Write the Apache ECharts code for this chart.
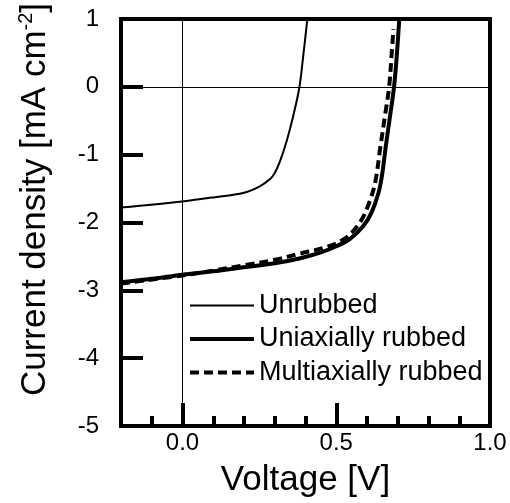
<!DOCTYPE html>
<html>
<head>
<meta charset="utf-8">
<script src="https://cdn.jsdelivr.net/npm/echarts@6/dist/echarts.min.js"></script>
<style>
  html, body { margin: 0; padding: 0; background: #fff; }
  #chart { width: 510px; height: 503px; }
</style>
</head>
<body>
<div id="chart"></div>
<script>
// J-V curves, [voltage (V), current density (mA cm^-2)]
const unrubbed = [
  [-0.2, -1.78], [0.0, -1.69], [0.1, -1.63], [0.2, -1.56], [0.25, -1.47],
  [0.285, -1.36], [0.3, -1.27], [0.317, -1.10], [0.34, -0.78], [0.36, -0.43],
  [0.38, -0.01], [0.393, 0.47], [0.406, 1.0]
]
const uniaxial = [
  [-0.2, -2.88], [-0.1, -2.83], [0.0, -2.77], [0.1, -2.72], [0.2, -2.66],
  [0.3, -2.60], [0.38, -2.53], [0.45, -2.44], [0.5, -2.35], [0.545, -2.24],
  [0.588, -2.05], [0.615, -1.85], [0.637, -1.57], [0.649, -1.30], [0.661, -0.88],
  [0.675, -0.43], [0.688, 0.0], [0.697, 0.47], [0.705, 1.0]
]
const multiaxial = [
  [-0.2, -2.90], [0.0, -2.78], [0.1, -2.71], [0.2, -2.63], [0.3, -2.55],
  [0.38, -2.46], [0.469, -2.36], [0.53, -2.23], [0.577, -2.0], [0.607, -1.71],
  [0.627, -1.40], [0.643, -0.90], [0.659, -0.41], [0.672, 0.0], [0.680, 0.47],
  [0.686, 0.85]
]
const seriesNames = ['Unrubbed', 'Uniaxially rubbed', 'Multiaxially rubbed']
const xMajorTicks = [0, 0.5, 1.0]
const refLines = [0]

const font = 'Liberation Sans, Arial, sans-serif'
const chart = echarts.init(document.getElementById('chart'))

const lineSeries = (name, data, width, type) => ({
  name,
  type: 'line',
  data,
  xAxisIndex: 0,
  symbol: 'none',
  smooth: 0.35,
  lineStyle: { color: '#000', width, type },
  itemStyle: { color: '#000' }
})

const zero = lineSeries(seriesNames[0], unrubbed, 2, 'solid')
zero.markLine = {
  silent: true,
  symbol: 'none',
  label: { show: false },
  lineStyle: { color: '#000', width: 1, type: 'solid' },
  data: [
    ...refLines.map(v => ({ xAxis: v })),
    ...refLines.map(v => ({ yAxis: v }))
  ]
}

chart.setOption({
  animation: false,
  textStyle: { fontFamily: font },
  grid: {
    left: 121, right: 20, top: 19, bottom: 75,
    show: true, borderColor: '#000', borderWidth: 4
  },
  legend: {
    orient: 'vertical',
    left: 183,
    top: 287,
    itemWidth: 64,
    itemHeight: 14,
    itemGap: 6.5,
    data: seriesNames,
    lineStyle: { width: 'inherit' },
    itemStyle: { color: 'transparent', borderColor: 'transparent', borderWidth: 0, opacity: 0 },
    textStyle: { fontSize: 27, lineHeight: 27, color: '#000', fontFamily: font }
  },
  xAxis: [
    {
      type: 'value',
      min: -0.2,
      max: 1.0,
      interval: 0.1,
      position: 'bottom',
      axisLine: { show: false, onZero: false },
      axisTick: { inside: true, length: 10, lineStyle: { color: '#000', width: 4 } },
      axisLabel: { show: false },
      splitLine: { show: false }
    },
    {
      type: 'value',
      min: -0.2,
      max: 1.0,
      position: 'bottom',
      name: 'Voltage [V]',
      nameLocation: 'middle',
      nameGap: 37,
      nameTextStyle: { fontSize: 35, color: '#000', fontFamily: font },
      axisLine: { show: false, onZero: false },
      axisTick: { inside: true, length: 23, customValues: xMajorTicks, lineStyle: { color: '#000', width: 4 } },
      axisLabel: {
        customValues: xMajorTicks,
        fontSize: 24,
        color: '#000',
        margin: 5,
        fontFamily: font,
        formatter: v => v.toFixed(1)
      },
      splitLine: { show: false }
    }
  ],
  yAxis: {
    type: 'value',
    min: -5,
    max: 1,
    interval: 1,
    name: '{a|Current density [mA cm}{s|-2}{a|]}',
    nameLocation: 'middle',
    nameGap: 67,
    nameTextStyle: {
      color: '#000',
      fontFamily: font,
      padding: [0, 0, 0, 46],
      rich: {
        a: { fontSize: 35, lineHeight: 38, color: '#000', fontFamily: font },
        s: { fontSize: 20, lineHeight: 38, verticalAlign: 'top', color: '#000', fontFamily: font }
      }
    },
    axisLine: { show: false, onZero: false },
    axisTick: { inside: true, length: 22, lineStyle: { color: '#000', width: 4 } },
    axisLabel: { fontSize: 24, color: '#000', margin: 22, fontFamily: font },
    splitLine: { show: false }
  },
  series: [
    zero,
    lineSeries(seriesNames[1], uniaxial, 4, 'solid'),
    lineSeries(seriesNames[2], multiaxial, 4, [9, 5])
  ]
})
</script>
</body>
</html>
